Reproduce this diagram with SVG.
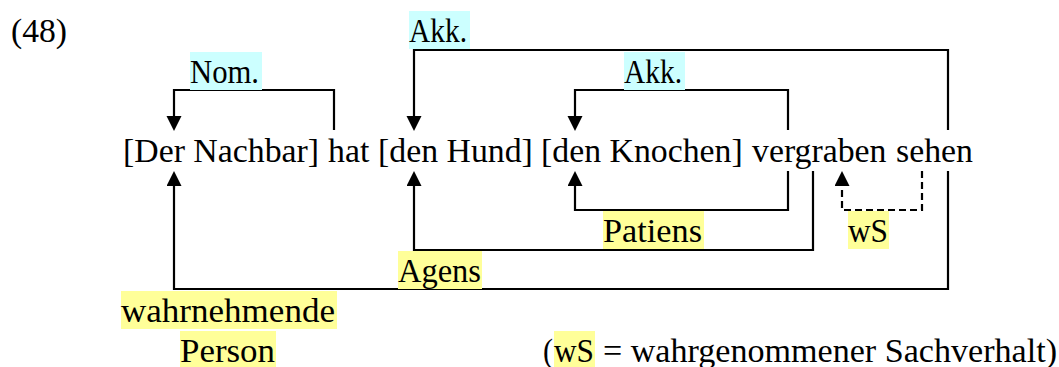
<svg xmlns="http://www.w3.org/2000/svg" width="1059" height="367" viewBox="0 0 1059 367">
<style>
text{font-family:"Liberation Serif","Times New Roman",serif;font-size:33px;fill:#000}
.m{font-size:33.8px}
.cy{fill:#CCFFFF}
.ye{fill:#FFFF99}
.c{fill:none;stroke:#000;stroke-width:2.2;stroke-linejoin:miter}
.d{stroke-dasharray:7 4}
</style>
<defs>
<marker id="ah" markerUnits="userSpaceOnUse" markerWidth="16" markerHeight="16" refX="0" refY="7.5" orient="auto" viewBox="0 0 16 16">
<path d="M0,0 L15,7.5 L0,15 z" fill="#000"/>
</marker>
</defs>
<rect width="1059" height="367" fill="#fff"/>
<text x="11" y="42" textLength="56" lengthAdjust="spacingAndGlyphs">(48)</text>
<g id="connectors">
<path class="c" d="M334,130 V90 H174 V116" marker-end="url(#ah)"/>
<path class="c" d="M948,130 V50 H414 V116" marker-end="url(#ah)"/>
<path class="c" d="M788,130 V90 H575 V116" marker-end="url(#ah)"/>
<path class="c" d="M788,171 V210 H575 V186" marker-end="url(#ah)"/>
<path class="c" d="M813,171 V250 H414 V186" marker-end="url(#ah)"/>
<path class="c" d="M948,171 V289 H174 V186" marker-end="url(#ah)"/>
<path class="c d" d="M922,171 V210 H842 V186" marker-end="url(#ah)"/>
</g>
<g id="labels">
<g id="lbl-akk-outer"><rect class="cy" x="409" y="11" width="61" height="38"/><text x="409" y="42" textLength="58" lengthAdjust="spacingAndGlyphs">Akk.</text></g>
<g id="lbl-nom"><rect class="cy" x="190" y="52" width="72" height="38"/><text x="190" y="83" textLength="69" lengthAdjust="spacingAndGlyphs">Nom.</text></g>
<g id="lbl-akk-inner"><rect class="cy" x="624" y="52" width="61" height="38"/><text x="624" y="83" textLength="58" lengthAdjust="spacingAndGlyphs">Akk.</text></g>
<g id="lbl-patiens"><rect class="ye" x="603" y="211" width="101" height="38"/><text x="603" y="242" textLength="99" lengthAdjust="spacingAndGlyphs">Patiens</text></g>
<g id="lbl-ws"><rect class="ye" x="848" y="211" width="41" height="38"/><text x="848" y="242" textLength="40" lengthAdjust="spacingAndGlyphs">wS</text></g>
<g id="lbl-agens"><rect class="ye" x="398" y="251" width="84" height="38"/><text x="398" y="282" textLength="83" lengthAdjust="spacingAndGlyphs">Agens</text></g>
<g id="lbl-wp"><rect class="ye" x="121" y="291" width="216" height="38"/><text x="121" y="322" textLength="214" lengthAdjust="spacingAndGlyphs">wahrnehmende</text>
<rect class="ye" x="180" y="331" width="96" height="38"/><text x="180" y="362" textLength="95" lengthAdjust="spacingAndGlyphs">Person</text></g>
</g>
<g id="nodes">
<g id="n-nachbar"><text class="m" x="123" y="162">[Der Nachbar]</text></g>
<g id="n-hat"><text class="m" x="328" y="162">hat</text></g>
<g id="n-hund"><text class="m" x="378" y="162">[den Hund]</text></g>
<g id="n-knochen"><text class="m" x="541" y="162">[den Knochen]</text></g>
<g id="n-vergraben"><text class="m" x="752" y="162">vergraben</text></g>
<g id="n-sehen"><text class="m" x="896" y="162">sehen</text></g>
</g>
<g id="legend">
<rect class="ye" x="554" y="331" width="41" height="38"/>
<text x="543" y="362" textLength="10" lengthAdjust="spacingAndGlyphs">(</text>
<text x="554" y="362" textLength="40" lengthAdjust="spacingAndGlyphs">wS</text>
<text x="603" y="362" textLength="454" lengthAdjust="spacingAndGlyphs">= wahrgenommener Sachverhalt)</text>
</g>
</svg>
